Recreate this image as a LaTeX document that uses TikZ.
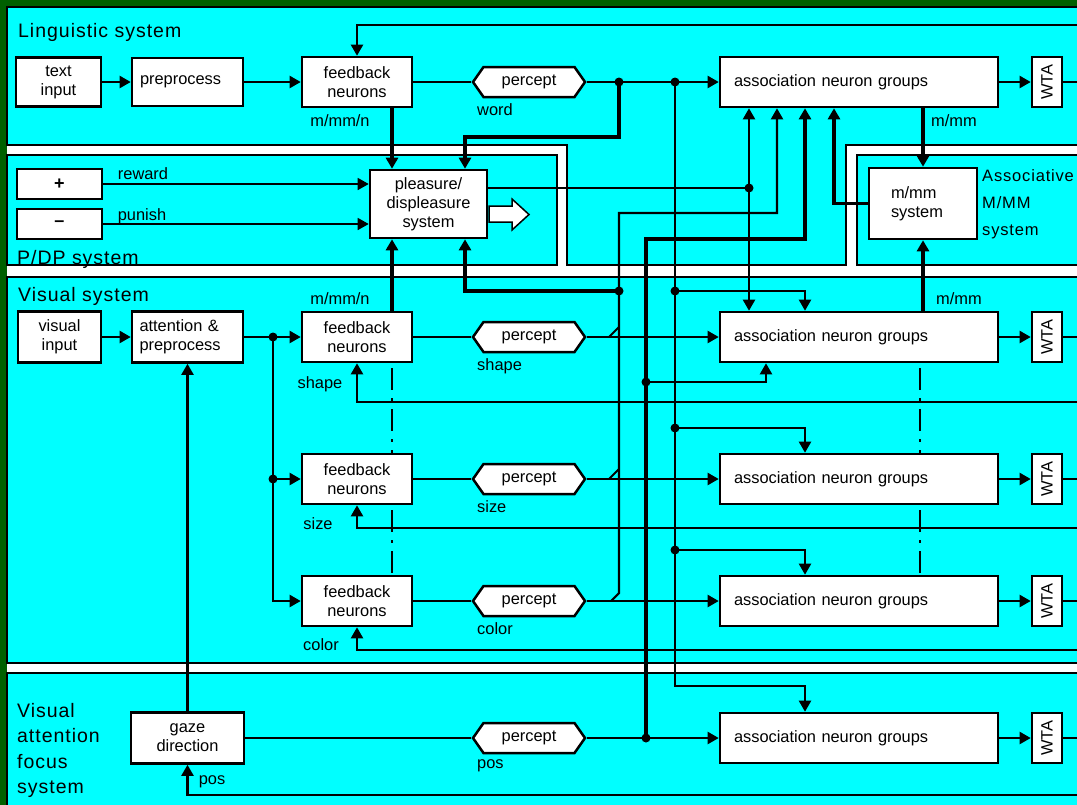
\documentclass[tikz,border=0pt]{standalone}
\usepackage{fontspec}
\setmainfont{Liberation Sans}
\newfontfamily\ttlfam[LetterSpace=5]{Liberation Sans}
\usepackage{graphicx}
\usepackage{tikz}
\usetikzlibrary{arrows.meta, shapes.symbols, positioning}

\definecolor{bggreen}{RGB}{0,96,0}
\definecolor{panelcyan}{RGB}{0,255,255}
\newcommand{\boxfont}{\fontsize{16.4}{19}\selectfont}
\newcommand{\titlefont}{\ttlfam\fontsize{19.5}{25.5}\selectfont}

\begin{document}
\begin{tikzpicture}[x=1pt, y=-1pt,
    panel/.style={fill=panelcyan, draw=black, line width=1.5pt},
    box/.style={draw, fill=white, line width=2.6pt, inner sep=0pt, align=center, font=\boxfont},
    fbn/.style={box, minimum width=110pt, minimum height=50pt},
    assoc/.style={box, minimum width=278pt, minimum height=50pt, text width=250pt, align=left},
    wta/.style={box, minimum width=30pt, minimum height=50pt},
    pcpt/.style={signal, signal to=west and east, signal pointer angle=110, draw, fill=white,
        line width=2.5pt, minimum width=112pt, minimum height=30pt, inner sep=0pt, font=\boxfont},
    lbl/.style={font=\boxfont, inner sep=0pt},
    ttl/.style={font=\titlefont, inner sep=0pt, align=left},
    dot/.style={circle, fill=black, inner sep=0pt, minimum size=9pt},
    thin/.style={line width=1.5pt},
    ln/.style={line width=2.1pt},
    thk/.style={line width=3.2pt},
    arr/.style={ln, -{Triangle[length=11pt, width=12pt]}},
    thinarr/.style={thin, -{Triangle[length=11pt, width=12pt]}},
    thkarr/.style={thk, -{Triangle[length=11pt, width=12pt]}},
    dashdot/.style={line width=1.8pt, dash pattern=on 22pt off 8pt on 3pt off 8pt, dash phase=-5pt}
]
\useasboundingbox (0,0) rectangle (1077,804);
\clip (0,0) rectangle (1077,804);
\fill[bggreen] (0,0) rectangle (1090,815);
\fill[white] (7,7) rectangle (1090,815);

% panels
\draw[panel] (7,7) -- (1090,7) -- (1090,145) -- (846,145) -- (846,265) -- (567,265) -- (567,145) -- (7,145) -- cycle;
\draw[panel] (7,155) rectangle (557,265);
\draw[panel] (857,155) rectangle (1090,265);
\draw[panel] (7,277) rectangle (1090,663);
\draw[panel] (7,673) rectangle (1090,815);

\node[ttl, anchor=base west] (tling) at (18,37) {Linguistic system};
\node[ttl, anchor=base west] (tpdp) at (17,264) {P/DP system};
\node[ttl, anchor=base west] (tvis) at (18,301) {Visual system};
\node[ttl, anchor=north west] (tfoc) at (17,703) {Visual\\attention\\focus\\system};
\node[ttl, anchor=north west, font={\ttlfam\fontsize{16.5}{27}\selectfont}] (tass) at (982,169) {Associative\\M/MM\\system};

\coordinate (redge) at (1090,0);

% percepts, associations and WTA rows
\foreach \n/\y in {word/82, shape/337, size/479, color/601, pos/738} {
    \node[pcpt] (pc\n) at (529,\y) {percept};
    \node[lbl, anchor=north west] (l\n) at ([xshift=-52pt, yshift=-5pt]pc\n.south) {\n};
    \node[assoc] (as\n) at (859,\y) {association neuron groups};
    \node[wta] (wta\n) at (1047,\y) {\rotatebox{90}{WTA}};
    \draw[arr] (pc\n.east) -- (as\n.west);
    \draw[arr] (as\n.east) -- (wta\n.west);
    \draw[ln] (wta\n.east) -- (wta\n.east -| redge);
}

% feedback neurons
\foreach \n/\y in {word/82, shape/337, size/479, color/601} {
    \node[fbn] (fb\n) at (357,\y) {feedback\\neurons};
    \draw[ln] (fb\n.east) -- (pc\n.west);
}

\node[box, minimum width=85pt, minimum height=49pt] (txtin) at (58.5,82) {text\\input};
\node[box, minimum width=111pt, minimum height=48pt, text width=95pt, align=left] (prep) at (187.5,82) {preprocess};
\node[box, minimum width=83pt, minimum height=51pt] (visin) at (59.5,337) {visual\\input};
\node[box, minimum width=111pt, minimum height=51pt, text width=96pt, align=left] (attn) at (187.5,337) {attention \&\\preprocess};
\node[box, minimum width=113pt, minimum height=51pt] (gaze) at (187.5,738) {gaze\\direction};
\node[box, minimum width=117pt, minimum height=68pt] (pdp) at (428.5,204) {pleasure/\\displeasure\\system};
\node[box, minimum width=85pt, minimum height=30pt, font=\fontsize{18}{18}\selectfont\bfseries] (rew) at (59.5,184) {+};
\node[box, minimum width=85pt, minimum height=30pt, font=\fontsize{18}{18}\selectfont\bfseries] (pun) at (59.5,224) {\textendash};
\node[box, minimum width=108pt, minimum height=71pt, text width=64pt, align=left] (mmsys) at (923,203.5) {m/mm\\system};

% hollow output arrow of P/DP
\draw[line width=1.5pt, fill=white] (489,206) -- (512,206) -- (512,199) -- (529,214.5) -- (512,230) -- (512,222) -- (489,222) -- cycle;

% labels
\node[lbl] (lrew) at (143,174) {reward};
\node[lbl] (lpun) at (142,216) {punish};
\node[lbl] (lmmn1) at (340,121) {m/mm/n};
\node[lbl] (lmmn2) at (340,299) {m/mm/n};
\node[lbl] (lshp) at (320,384) {shape};
\node[lbl] (lsiz) at (318,524) {size};
\node[lbl] (lcol) at (321,645) {color};
\node[lbl] (lmm1) at (954,121) {m/mm};
\node[lbl] (lmm2) at (959,299) {m/mm};
\node[lbl] (lpos) at (212,782) {pos};

% input chains
\draw[arr] (txtin.east) -- (prep.west);
\draw[arr] (prep.east) -- (fbword.west);
\draw[arr] (visin.east) -- (attn.west);
\draw[arr] (attn.east) -- (fbshape.west);
\node[dot] (jatt) at (273,337) {};
\node[dot] (jsize) at (273,479) {};
\draw[ln] (jatt.center) -- (jsize.center);
\draw[arr] (jsize.center) -- (fbsize.west);
\draw[arr] (jsize.center) |- (fbcolor.west);
\draw[arr] (gaze.north) -- (attn.south);
\draw[ln] (gaze.east) -- (pcpos.west);

% feedback loops from WTA
\coordinate (fbloop) at (1090,25);
\draw[arr] (fbloop) -| (fbword.north);
\foreach \n/\fy in {shape/402, size/528, color/650} {
    \coordinate (back\n) at (1090,\fy);
    \draw[arr] (back\n) -| (fb\n.south);
}
\coordinate (backpos) at (1090,795);
\draw[arr] (backpos) -| (gaze.south);

% P/DP inputs
\coordinate (pdtl) at ([xshift=-36.5pt]pdp.north);
\coordinate (pdtr) at ([xshift=36.5pt]pdp.north);
\coordinate (pdbl) at ([xshift=-36.5pt]pdp.south);
\coordinate (pdbr) at ([xshift=36.5pt]pdp.south);
\draw[thinarr] (rew.east) -- (rew.east -| pdp.west);
\draw[thinarr] (pun.east) -- (pun.east -| pdp.west);
\draw[thkarr] (fbword.south -| pdtl) -- (pdtl);
\draw[thkarr] (fbshape.north -| pdbl) -- (pdbl);
\node[dot] (jw1) at (619,82) {};
\node[dot] (jw2) at (675,82) {};
\draw[thkarr] (jw1.center) -- ++(0,55) -| (pdtr);

% P/DP output
\node[dot] (jpd) at (749,188) {};
\draw[ln] ([yshift=16pt]pdp.east) -- (jpd.center);
\draw[arr] (jpd.center) -- ([xshift=-110pt]asword.south);
\draw[arr] (jpd.center) -- ([xshift=-110pt]asshape.north);

% visual percept bus
\coordinate (vbjoin) at (611,601);
\coordinate (vbbot) at (619,593);
\coordinate (vbtop) at (619,213);
\draw[arr] (vbjoin) -- (vbbot) -- (vbtop) -| ([xshift=-82pt]asword.south);
\foreach \y in {337,479} {
    \draw[ln] (609,\y) -- ++(10,-10);
}
\node[dot] (jvb) at (619,291) {};
\draw[thkarr] (jvb.center) -| (pdbr);

% word bus
\draw[arr] (jw2.center) -- (675,686) -| ([xshift=-54pt]aspos.north);
\foreach \n/\y in {shape/291, size/428, color/550} {
    \node[dot] (jw\n) at (675,\y) {};
    \draw[arr] (jw\n.center) -| ([xshift=-54pt]as\n.north);
}

% pos bus
\node[dot] (jpos) at (646,738) {};
\node[dot] (jposs) at (646,382) {};
\draw[thkarr] (jpos.center) -- (646,239) -| ([xshift=-54pt]asword.south);
\draw[arr] (jposs.center) -| ([xshift=-93pt]asshape.south);

% associative m/mm system
\draw[thkarr] (mmsys.west) -| ([xshift=-25pt]asword.south);
\draw[thkarr] (asword.south -| mmsys.north) -- (mmsys.north);
\draw[thkarr] (asshape.north -| mmsys.south) -- (mmsys.south);

% dash-dot links
\draw[dashdot] (fbshape.south -| pdbl) -- (fbsize.north -| pdbl);
\draw[dashdot] (fbsize.south -| pdbl) -- (fbcolor.north -| pdbl);
\draw[dashdot] ([xshift=61pt]asshape.south) -- ([xshift=61pt]assize.north);
\draw[dashdot] ([xshift=61pt]assize.south) -- ([xshift=61pt]ascolor.north);
\end{tikzpicture}
\end{document}
